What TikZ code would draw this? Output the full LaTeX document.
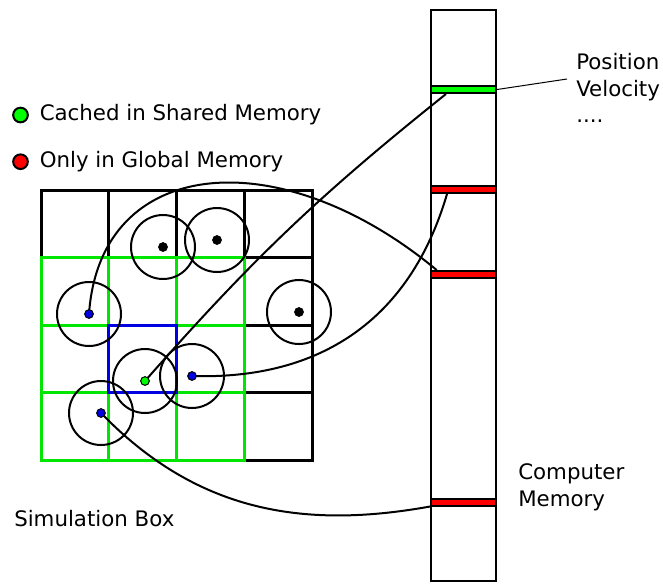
\documentclass[tikz,border=0pt]{standalone}
\usepackage{fontspec}
\setmainfont{DejaVu Sans}
\usetikzlibrary{positioning}
\definecolor{CacheGreen}{RGB}{0,230,0}
\definecolor{LegendGreen}{RGB}{0,255,0}
\definecolor{CellBlue}{RGB}{0,0,225}
\definecolor{SlotRed}{RGB}{255,0,0}
\tikzset{TextStyle/.style={inner sep=0pt,font=\fontsize{16}{20}\selectfont,align=left}}
\tikzset{ZoneStyle/.style={circle,draw,line width=1.5pt,minimum size=48pt,inner sep=0pt}}
\tikzset{DotStyle/.style={circle,draw,line width=0.75pt,minimum size=6.5pt,inner sep=0pt}}
\tikzset{KeyStyle/.style={circle,draw,line width=1.5pt,minimum size=11pt,inner sep=0pt}}
\tikzset{SlotStyle/.style={rectangle,draw,line width=1.5pt,minimum width=48.75pt,minimum height=5.25pt,inner sep=0pt}}
\tikzset{CellStyle/.style={line width=2.25pt,line cap=rect}}
\tikzset{EdgeStyle/.style={line width=1.5pt}}

\begin{document}
\begin{tikzpicture}[x=0.75pt,y=-0.75pt]
    \useasboundingbox (0,0) rectangle (663,583);
    \foreach \i in {0,...,4}{
        \draw[CellStyle] ({41+67.75*\i},190) -- ({41+67.75*\i},460);
        \draw[CellStyle] (41,{190+67.5*\i}) -- (312,{190+67.5*\i});
    }
    \foreach \i in {0,...,3}{
        \draw[CellStyle,CacheGreen] ({41+67.75*\i},257.5) -- ({41+67.75*\i},460);
        \draw[CellStyle,CacheGreen] (41,{257.5+67.5*\i}) -- (244.25,{257.5+67.5*\i});
    }
    \draw[CellStyle,CellBlue] (108.75,325) rectangle (176.5,392.5);
    \node[ZoneStyle] (zA) at (163,247) {};
    \node[ZoneStyle] (zB) at (217,240) {};
    \node[ZoneStyle] (zC) at (299,312) {};
    \node[ZoneStyle] (zD) at (89,314) {};
    \node[ZoneStyle] (zE) at (145,381) {};
    \node[ZoneStyle] (zF) at (192,376) {};
    \node[ZoneStyle] (zG) at (101,413) {};
    \node[draw,line width=1.9pt,minimum width=48.75pt,minimum height=428.25pt,inner sep=0pt] (mem) at (463.5,295.5) {};
    \node[SlotStyle,fill=LegendGreen] (gslot) at (463.5,89.5) {};
    \node[SlotStyle,fill=SlotRed] (slotA) at (463.5,189.5) {};
    \node[SlotStyle,fill=SlotRed] (slotB) at (463.5,274.5) {};
    \node[SlotStyle,fill=SlotRed] (slotC) at (463.5,502) {};
    \draw[EdgeStyle] (zE.center) to[bend left=5] ([xshift=12pt]gslot.south west);
    \draw[EdgeStyle] (zD.center) .. controls (100,155) and (280,140) .. ([xshift=5pt]slotB.north west);
    \draw[EdgeStyle] (zF.center) .. controls (320,380) and (410,320) .. ([xshift=12.75pt]slotA.south west);
    \draw[EdgeStyle] (zG.center) .. controls (195,510) and (300,530) .. (slotC.south west);
    \node[DotStyle,fill=black] (pA) at (zA) {};
    \node[DotStyle,fill=black] (pB) at (zB) {};
    \node[DotStyle,fill=black] (pC) at (zC) {};
    \node[DotStyle,fill=CellBlue] (pD) at (zD) {};
    \node[DotStyle,fill=LegendGreen] (pE) at (zE) {};
    \node[DotStyle,fill=CellBlue] (pF) at (zF) {};
    \node[DotStyle,fill=CellBlue] (pG) at (zG) {};
    \node[KeyStyle,fill=LegendGreen] (keyA) at (20.5,115) {};
    \node[KeyStyle,fill=SlotRed] (keyB) at (20.5,161.7) {};
    \node[TextStyle,right=8pt of keyA] (keyAtext) {Cached in Shared Memory};
    \node[TextStyle,right=8pt of keyB] (keyBtext) {Only in Global Memory};
    \node[TextStyle,anchor=north west] (fields) at (576,53) {Position\\Velocity\\....};
    \coordinate (tagend) at (567,79);
    \draw[line width=0.75pt] (tagend) -- (gslot.east);
    \node[TextStyle,anchor=north west] (memlabel) at (518,463.5) {Computer\\Memory};
    \node[TextStyle,anchor=base west] (boxlabel) at (14,526) {Simulation Box};
\end{tikzpicture}
\end{document}
